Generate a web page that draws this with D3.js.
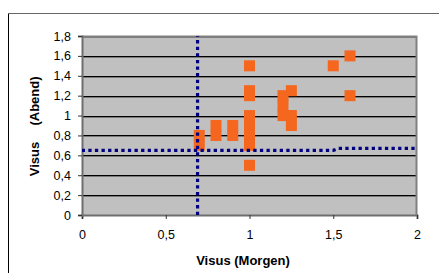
<!DOCTYPE html>
<html>
<head>
<meta charset="utf-8">
<script src="https://cdnjs.cloudflare.com/ajax/libs/d3/7.8.5/d3.min.js"></script>
<style>
  body { margin: 0; background: #fff; }
  svg { display: block; font-family: Arial, "Liberation Sans", sans-serif; }
</style>
</head>
<body>
<div id="chart"></div>
<script>
// Visus Morgen (x) / Abend (y) pairs
var visusMorgen = [0.7, 0.7, 0.8, 0.8, 0.9, 0.9, 1, 1, 1, 1, 1, 1, 1, 1, 1.2, 1.2, 1.2, 1.25, 1.25, 1.25, 1.5, 1.6, 1.6];
var visusAbend  = [0.8, 0.7, 0.9, 0.8, 0.9, 0.8, 1.5, 1.25, 1.2, 1.0, 0.9, 0.8, 0.7, 0.5, 1.2, 1.1, 1.0, 1.25, 1.0, 0.9, 1.5, 1.6, 1.2];
// dotted reference lines
var vLineX = [0.69, 0.69];
var vLineY = [0, 1.8];
var hLineX = [0, 1.5, 1.53, 2];
var hLineY = [0.65, 0.65, 0.67, 0.67];
var xTicks = [0, 0.5, 1, 1.5, 2];
var yTicks = [0, 0.2, 0.4, 0.6, 0.8, 1, 1.2, 1.4, 1.6, 1.8];

var width = 439, height = 273;
var fmt = function (d) { return String(d).replace('.', ','); };

var svg = d3.select('#chart').append('svg')
    .attr('width', width)
    .attr('height', height);

// outer chart frame (left + top only visible)
svg.append('line').attr('x1', 8.5).attr('x2', 8.5).attr('y1', 13).attr('y2', height)
    .attr('stroke', '#000').attr('stroke-width', 1);
svg.append('line').attr('x1', 8).attr('x2', width).attr('y1', 13.5).attr('y2', 13.5)
    .attr('stroke', '#666').attr('stroke-width', 1);

var x = d3.scaleLinear().domain([0, 2]).range([82, 417]);
var y = d3.scaleLinear().domain([0, 1.8]).range([215, 36]);

// plot background
svg.append('rect')
    .attr('x', x(0)).attr('y', y(1.8))
    .attr('width', x(2) - x(0)).attr('height', y(0) - y(1.8))
    .attr('fill', '#c0c0c0');

// gridlines
var grid = svg.append('g');
yTicks.slice(1).forEach(function (t) {
    var yy = Math.round(y(t)) + 0.5;
    grid.append('line').attr('x1', x(0)).attr('x2', x(2)).attr('y1', yy).attr('y2', yy)
        .attr('stroke', '#000').attr('stroke-width', 1);
    grid.append('line').attr('x1', x(0)).attr('x2', x(2)).attr('y1', yy + 1).attr('y2', yy + 1)
        .attr('stroke', '#7a7a7a').attr('stroke-width', 1);
});

// plot border top/right
svg.append('path')
    .attr('d', 'M' + x(0) + ',' + (y(1.8) + 0.5) + 'H' + (x(2) - 0.5) + 'V' + y(0))
    .attr('fill', 'none').attr('stroke', '#808080').attr('stroke-width', 2);

// axes
var xAxis = svg.append('g')
    .attr('transform', 'translate(0,' + y(0) + ')')
    .call(d3.axisBottom(x).tickValues(xTicks).tickSize(4).tickPadding(11).tickFormat(fmt));
var yAxis = svg.append('g')
    .attr('transform', 'translate(' + x(0) + ',0)')
    .call(d3.axisLeft(y).tickValues(yTicks).tickSize(4).tickPadding(7).tickFormat(fmt));
[xAxis, yAxis].forEach(function (a) {
    a.select('.domain').attr('stroke', '#6e6e6e').attr('stroke-width', 2);
    a.selectAll('.tick line').attr('stroke', '#333');
    a.selectAll('.tick text').attr('font-size', 12.5).attr('fill', '#000')
        .attr('font-family', 'Arial, "Liberation Sans", sans-serif');
});

// markers
var pts = visusMorgen.map(function (v, i) { return [v, visusAbend[i]]; });
var ms = 11;
svg.append('g').selectAll('rect')
    .data(pts)
    .enter()
    .append('rect')
    .attr('x', function (d) { return x(d[0]) - ms / 2; })
    .attr('y', function (d) { return y(d[1]) - ms / 2; })
    .attr('width', ms)
    .attr('height', ms)
    .attr('fill', '#f5661e');

// dotted lines
var line = d3.line().x(function (d) { return x(d[0]); }).y(function (d) { return y(d[1]); });
svg.append('path')
    .datum(vLineX.map(function (v, i) { return [v, vLineY[i]]; }))
    .attr('d', line)
    .attr('fill', 'none').attr('stroke', '#000080').attr('stroke-width', 3.2)
    .attr('stroke-dasharray', '3.3 3.3');
svg.append('path')
    .datum(hLineX.map(function (v, i) { return [v, hLineY[i]]; }))
    .attr('d', line)
    .attr('fill', 'none').attr('stroke', '#000080').attr('stroke-width', 3.2)
    .attr('stroke-dasharray', '3.3 3.3')
    .attr('stroke-dashoffset', 0.3);

// axis titles
svg.append('text')
    .attr('x', 243).attr('y', 265)
    .attr('text-anchor', 'middle')
    .attr('font-size', 13).attr('font-weight', 'bold')
    .text('Visus (Morgen)');
svg.append('text')
    .attr('transform', 'translate(39,159) rotate(-90)')
    .attr('text-anchor', 'middle')
    .attr('font-size', 13).attr('font-weight', 'bold')
    .text('Visus');
svg.append('text')
    .attr('transform', 'translate(39,101) rotate(-90)')
    .attr('text-anchor', 'middle')
    .attr('font-size', 13).attr('font-weight', 'bold')
    .text('(Abend)');
</script>
</body>
</html>
